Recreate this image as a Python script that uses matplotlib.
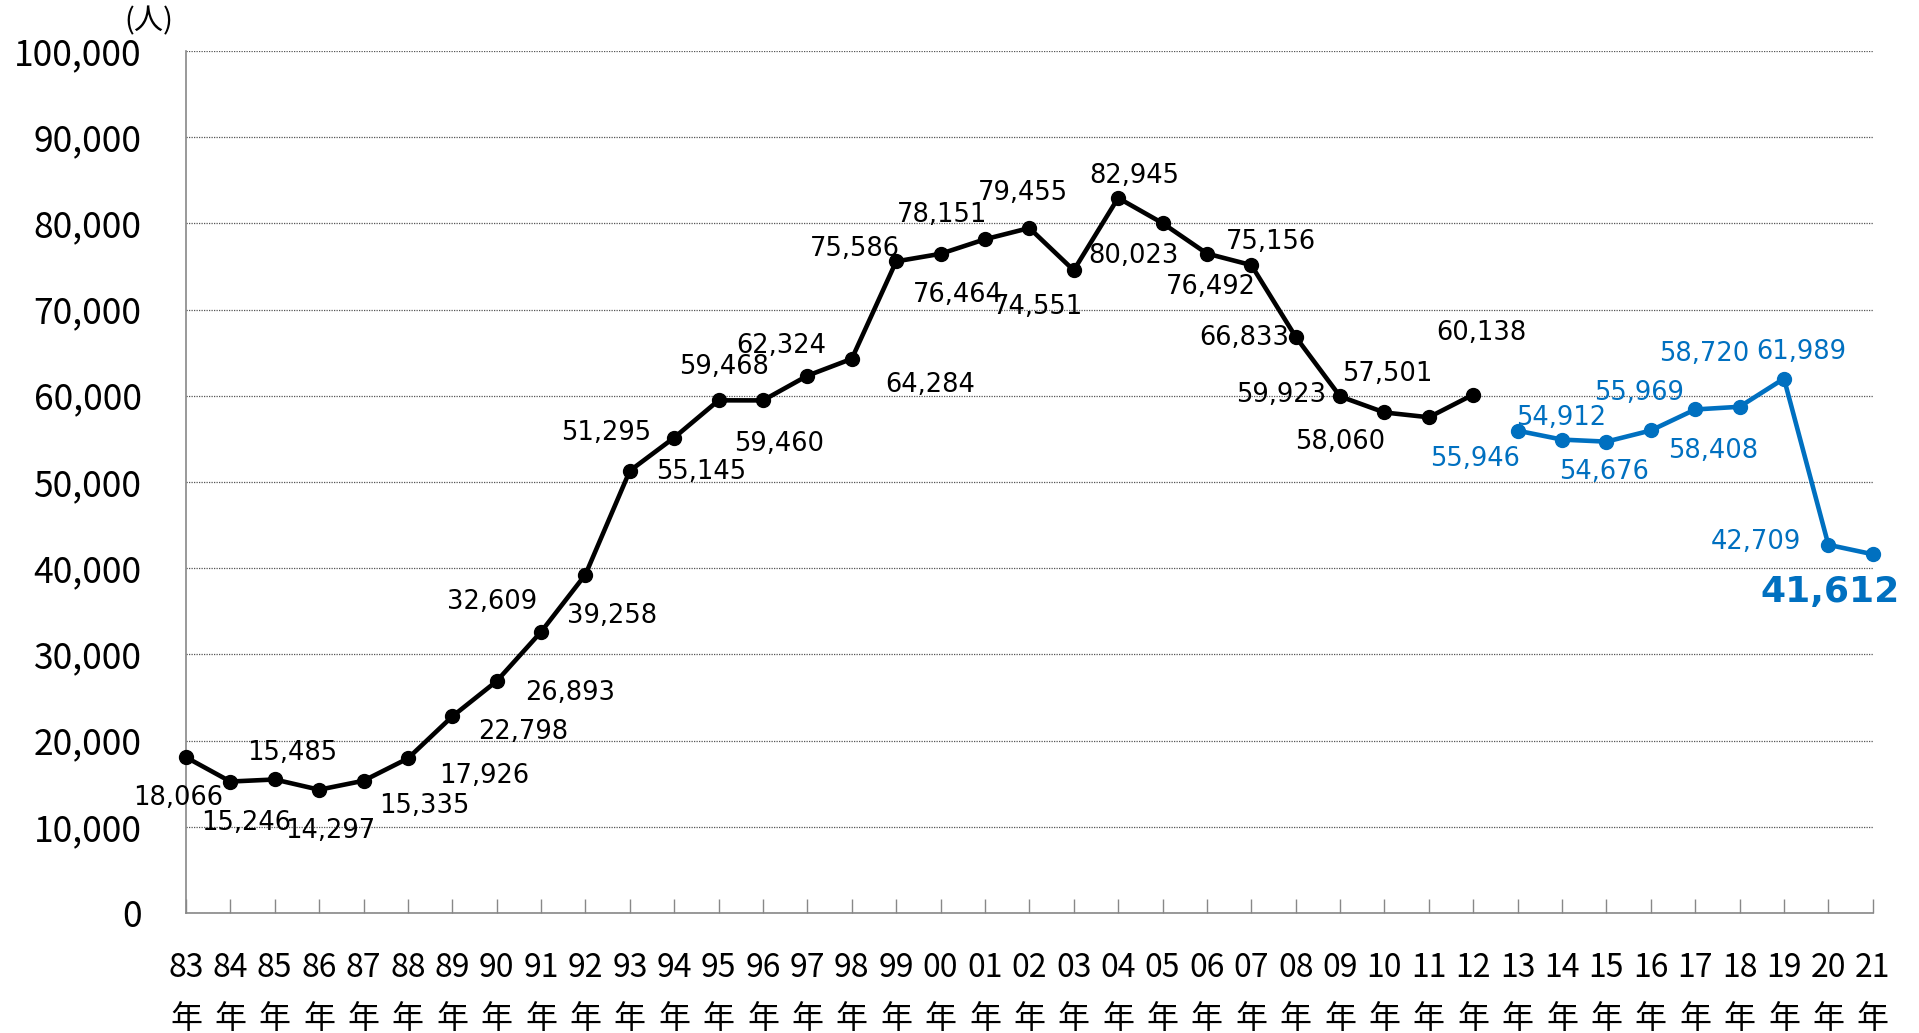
import matplotlib
matplotlib.use('Agg')
import matplotlib.pyplot as plt
from matplotlib.ticker import FuncFormatter, MultipleLocator

years = ['83', '84', '85', '86', '87', '88', '89', '90', '91', '92',
         '93', '94', '95', '96', '97', '98', '99', '00', '01', '02',
         '03', '04', '05', '06', '07', '08', '09', '10', '11', '12',
         '13', '14', '15', '16', '17', '18', '19', '20', '21']

# 83年-12年 (black)
old_values = [18066, 15246, 15485, 14297, 15335, 17926, 22798, 26893, 32609, 39258,
              51295, 55145, 59468, 59460, 62324, 64284, 75586, 76464, 78151, 79455,
              74551, 82945, 80023, 76492, 75156, 66833, 59923, 58060, 57501, 60138]
# 13年-21年 (blue)
new_values = [55946, 54912, 54676, 55969, 58408, 58720, 61989, 42709, 41612]

# label offsets (px on the small preview), converted to points below
old_offsets = [(-6, -33), (13, -34), (14, 22), (9, -34), (50, -21), (62, -14), (58, -13),
               (60, -10), (-40, 24), (22, -34), (-19, 31), (22, -28), (4, 27), (13, -36),
               (-21, 24), (64, -21), (-34, 10), (14, -34), (-35, 20), (-5, 29), (-29, -30),
               (13, 18), (-24, -27), (3, -27), (16, 19), (-42, -1), (-48, 1), (-36, -24),
               (-34, 35), (7, 50)]
new_offsets = [(-35, -23), (-1, 18), (-2, -25), (-10, 31), (15, -34), (-29, 43), (14, 22),
               (-59, 2), (-35, -31)]
PX = 0.881

BLACK = '#000000'
BLUE = '#0070C0'
JP = ['Noto Sans CJK JP', 'DejaVu Sans']

fig = plt.figure(figsize=(19.19, 10.33), dpi=100)
ax = fig.add_axes([0.0969, 0.1162, 0.879, 0.8345])

x_old = list(range(len(old_values)))
x_new = list(range(len(old_values), len(old_values) + len(new_values)))

ax.plot(x_old, old_values, color=BLACK, lw=3.3, marker='o', ms=10, clip_on=False, zorder=3)
ax.plot(x_new, new_values, color=BLUE, lw=3.3, marker='o', ms=10, clip_on=False, zorder=3)

for x, v, (dx, dy) in zip(x_old, old_values, old_offsets):
    ax.annotate('{:,}'.format(v), (x, v), xytext=(dx * PX, dy * PX), textcoords='offset points',
                ha='center', va='center', fontsize=18.5, color=BLACK, family='DejaVu Sans')
for i, (x, v, (dx, dy)) in enumerate(zip(x_new, new_values, new_offsets)):
    last = i == len(new_values) - 1
    ax.annotate('{:,}'.format(v), (x, v), xytext=(dx * PX, dy * PX), textcoords='offset points',
                ha='center', va='center', fontsize=26 if last else 18.5,
                fontweight='bold' if last else 'normal', color=BLUE, family='DejaVu Sans')

ax.set_xlim(0, len(years) - 1)
ax.set_ylim(0, 100000)
ax.yaxis.set_major_locator(MultipleLocator(10000))
ax.yaxis.set_major_formatter(FuncFormatter(lambda v, p: '{:,}'.format(int(v))))
ax.set_xticks(range(len(years)))
ax.set_xticklabels([y + '\n年' for y in years], family=JP, fontsize=23, linespacing=1.75)

for lab in ax.get_yticklabels():
    lab.set_family(JP)
    lab.set_fontsize(25.5)

ax.tick_params(axis='x', direction='in', length=10, width=1, color='#888888', pad=28)
ax.tick_params(axis='y', length=0, pad=32)

ax.grid(axis='y', linestyle=(0, (1, 1)), color='#555555', lw=0.9)
ax.set_axisbelow(True)
for s in ['top', 'right']:
    ax.spines[s].set_visible(False)
ax.spines['left'].set_color('#888888')
ax.spines['bottom'].set_color('#888888')
ax.spines['left'].set_linewidth(1.2)
ax.spines['bottom'].set_linewidth(1.2)

fig.text(149 / 1919, 1 - 21 / 1033, '(人)', family=JP, fontsize=21, ha='center', va='center')

fig.savefig('out.png', dpi=100)
